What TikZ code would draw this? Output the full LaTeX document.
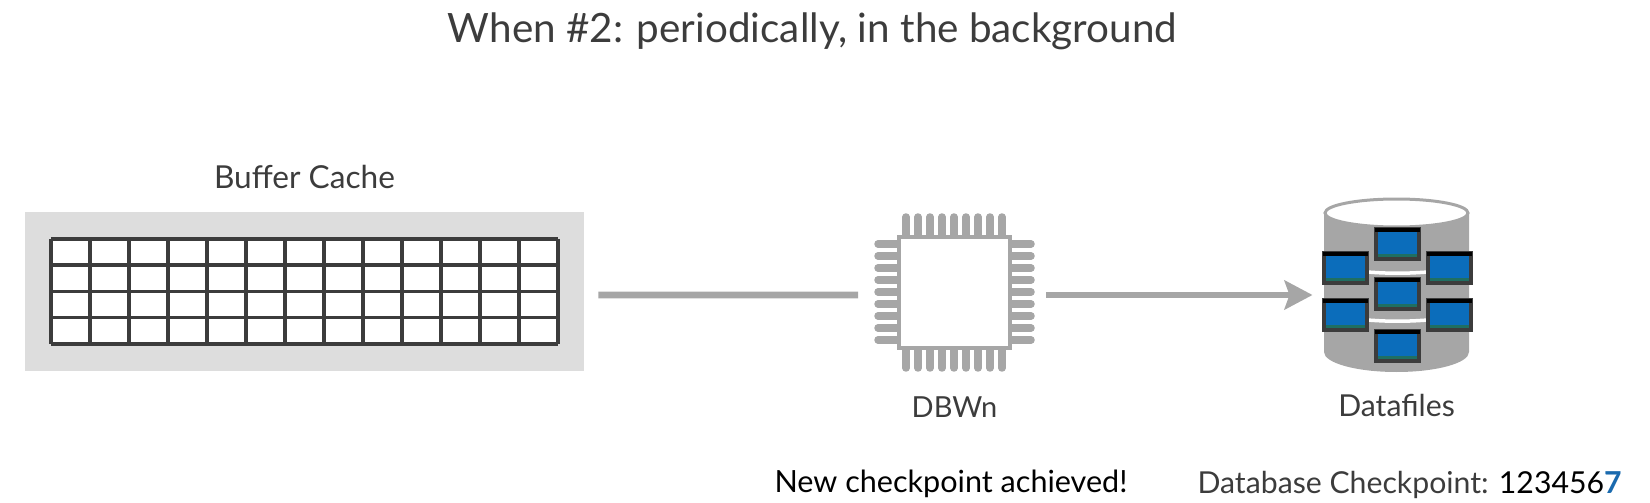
\documentclass[tikz,border=0pt]{standalone}
\usepackage{fontspec}
\setmainfont{Lato}
\usetikzlibrary{arrows.meta,positioning,shapes.geometric}
\definecolor{inkgray}{HTML}{3C3C3C}
\definecolor{pingray}{HTML}{A6A6A6}
\definecolor{cachegray}{HTML}{DDDDDD}
\definecolor{panelblue}{HTML}{0B6DBB}
\definecolor{panelgreen}{HTML}{1F6F62}
\definecolor{digitblue}{HTML}{1A6AAE}
\tikzset{
  lbl/.style={text=inkgray, inner sep=0pt, font=\fontsize{17.2}{20}\selectfont},
  link/.style={line width=0.14cm, pingray},
  chipbody/.style={draw=pingray, line width=0.08cm, fill=white, minimum width=2.22cm, minimum height=2.22cm, inner sep=0pt},
  pinmark/.style={line width=0.15cm, pingray, line cap=round},
  cachecell/.style={draw=inkgray, line width=0.07cm},
}
% one panel of the datafile stack, #1 = left/top corner
\newcommand{\filepanel}[1]{
  \begin{scope}[shift={#1}]
    \fill[panelblue] (0,0) rectangle (43,30);
    \fill[panelgreen] (0,25) rectangle (43,30);
    \draw[inkgray, line width=0.07cm] (0,0) rectangle (43,30);
    \fill[black] (-1,-1) rectangle (44,3);
  \end{scope}
}
\begin{document}
\begin{tikzpicture}[x=0.02cm, y=-0.02cm]
  \useasboundingbox (0,0) rectangle (1650,503);

  \node[lbl, font=\fontsize{23}{27}\selectfont] (title) at (812.5,31) {When \#2: periodically, in the background};

  %% Buffer cache
  \node[fill=cachegray, minimum width=11.18cm, minimum height=3.18cm, inner sep=0pt] (cache) at (304.5,291.5) {};
  \node[lbl, font=\fontsize{18}{20}\selectfont, above=0.46cm of cache] (cachelabel) {Buffer Cache};
  \fill[white] (51,239) rectangle (557,344);
  \foreach \c in {0,...,13}
    \draw[cachecell] (51+\c*39,239) -- (51+\c*39,344);
  \foreach \r in {1,...,4}
    \draw[cachecell] (51,239+\r*26.25) -- (558,239+\r*26.25);
  \draw[inkgray, line width=0.09cm] (51,239) -- (558,239);

  %% DBWn chip
  \foreach \i in {0,...,8} {
    \draw[pinmark] (906+\i*12,217) -- (906+\i*12,238);
    \draw[pinmark] (906+\i*12,347) -- (906+\i*12,368);
    \draw[pinmark] (878,244+\i*12) -- (899,244+\i*12);
    \draw[pinmark] (1010,244+\i*12) -- (1031,244+\i*12);
  }
  \node[chipbody] (chip) at (954.5,292.5) {};
  \node[lbl, font=\fontsize{16.5}{20}\selectfont, below=0.92cm of chip] (chiplabel) {DBWn};

  %% Datafiles
  \fill[pingray] (1324,213) -- (1324,352) arc[start angle=180, end angle=0, x radius=72.5, y radius=20] -- (1469,213) -- cycle;
  \node[draw=pingray, line width=0.06cm, fill=white, ellipse, minimum width=2.86cm, minimum height=0.56cm, inner sep=0pt] (files) at (1396.5,213) {};
  \draw[white, line width=0.07cm] (1367,272) to[bend right=4] (1428,272);
  \draw[white, line width=0.07cm] (1367,320) to[bend right=4] (1428,320);
  \filepanel{(1376,229)}
  \filepanel{(1324,253)}
  \filepanel{(1428,253)}
  \filepanel{(1376,279)}
  \filepanel{(1324,300)}
  \filepanel{(1428,300)}
  \filepanel{(1376,331)}
  \node[lbl, below=3.3cm of files] (fileslabel) {Datafiles};

  %% Connectors
  \draw[link] ([xshift=0.28cm, yshift=-0.07cm]cache.east) -- ([xshift=-0.78cm, yshift=-0.05cm]chip.west);
  \draw[link, -{Stealth[length=0.56cm, width=0.58cm, inset=0.1cm]}] ([xshift=0.68cm, yshift=-0.05cm]chip.east) -- ([xshift=-0.22cm, yshift=-0.05cm]chip.east -| files.west);

  %% Status line
  \node[lbl, text=black, font=\fontsize{17.4}{20}\selectfont] (status) at (951,484) {New checkpoint achieved!};
  \node[lbl, anchor=east] (ckpt) at (1622,485) {Database Checkpoint: \textcolor{black}{123456\textcolor{digitblue}{\textbf{7}}}};
\end{tikzpicture}
\end{document}
